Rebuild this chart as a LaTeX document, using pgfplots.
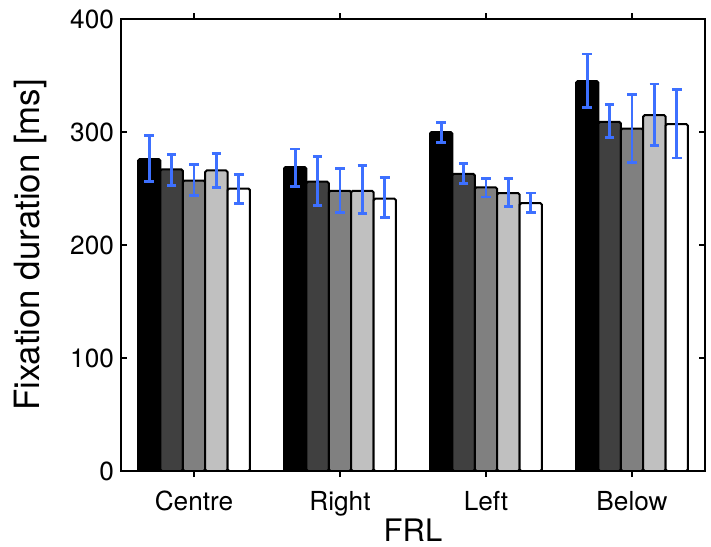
\documentclass[border=0pt]{standalone}
\usepackage{pgfplots}
\pgfplotsset{compat=1.18}
\usepackage{fontspec}
\setmainfont{TeX Gyre Heros}
\definecolor{errblue}{RGB}{61,112,255}
\definecolor{ga}{RGB}{64,64,64}
\definecolor{gb}{RGB}{128,128,128}
\definecolor{gc}{RGB}{192,192,192}
\pgfplotsset{
  myerr/.style={
    error bars/y dir=both, error bars/y explicit,
    error bars/error bar style={errblue, line width=1.45pt, rounded corners=0pt},
    error bars/error mark options={rotate=90, errblue, mark size=2.4pt, line width=1.45pt}},
}
\begin{document}
\begin{tikzpicture}
\useasboundingbox (-60.5pt,-37.5pt) rectangle (295pt,235.5pt);
\begin{axis}[
  at={(0,0)}, anchor=south west,
  scale only axis, width=292pt, height=226pt,
  xmin=0.5, xmax=4.5, ymin=0, ymax=400,
  xtick={1,2,3,4}, xticklabels={Centre,Right,Left,Below},
  ytick={0,100,200,300,400},
  tick align=inside, major tick length=3pt,
  ybar=0pt, bar width=0.1534,
  axis line style={line width=0.6pt},
  every tick/.style={black, line width=0.6pt},
  tick label style={font=\fontsize{13.1}{15}\selectfont},
  /pgf/number format/assume math mode=true,
  xticklabel style={anchor=base, yshift=-16.5pt},
  xlabel={FRL}, ylabel={Fixation duration [ms]},
  xlabel style={font=\fontsize{15.5}{18}\selectfont, at={(axis description cs:0.5,-0.157)}, anchor=base},
  ylabel style={font=\fontsize{17.4}{20}\selectfont, at={(axis description cs:-0.140,0.5)}, anchor=base},
]
\addplot[fill=black, draw=black, line width=1pt, rounded corners=0.8pt, myerr] coordinates {
  (1,276) += (0,21) -= (0,20)
  (2,269) += (0,16) -= (0,17)
  (3,300) += (0,8.5) -= (0,9)
  (4,345) += (0,24) -= (0,23.5)
};
\addplot[fill=ga, draw=black, line width=1pt, rounded corners=0.8pt, myerr] coordinates {
  (1,267) += (0,13) -= (0,14)
  (2,256) += (0,22) -= (0,21)
  (3,263) += (0,9) -= (0,8.5)
  (4,309) += (0,15.5) -= (0,14)
};
\addplot[fill=gb, draw=black, line width=1pt, rounded corners=0.8pt, myerr] coordinates {
  (1,257) += (0,14) -= (0,13)
  (2,248) += (0,19.5) -= (0,19)
  (3,251) += (0,8) -= (0,8.5)
  (4,303) += (0,30) -= (0,30)
};
\addplot[fill=gc, draw=black, line width=1pt, rounded corners=0.8pt, myerr] coordinates {
  (1,266) += (0,15) -= (0,15)
  (2,248) += (0,22) -= (0,20)
  (3,246) += (0,13) -= (0,12)
  (4,315) += (0,27.5) -= (0,27)
};
\addplot[fill=white, draw=black, line width=1pt, rounded corners=0.8pt, myerr] coordinates {
  (1,250) += (0,12) -= (0,13)
  (2,241) += (0,19) -= (0,17)
  (3,237) += (0,9) -= (0,8)
  (4,307) += (0,31) -= (0,30)
};
\end{axis}
\end{tikzpicture}
\end{document}
